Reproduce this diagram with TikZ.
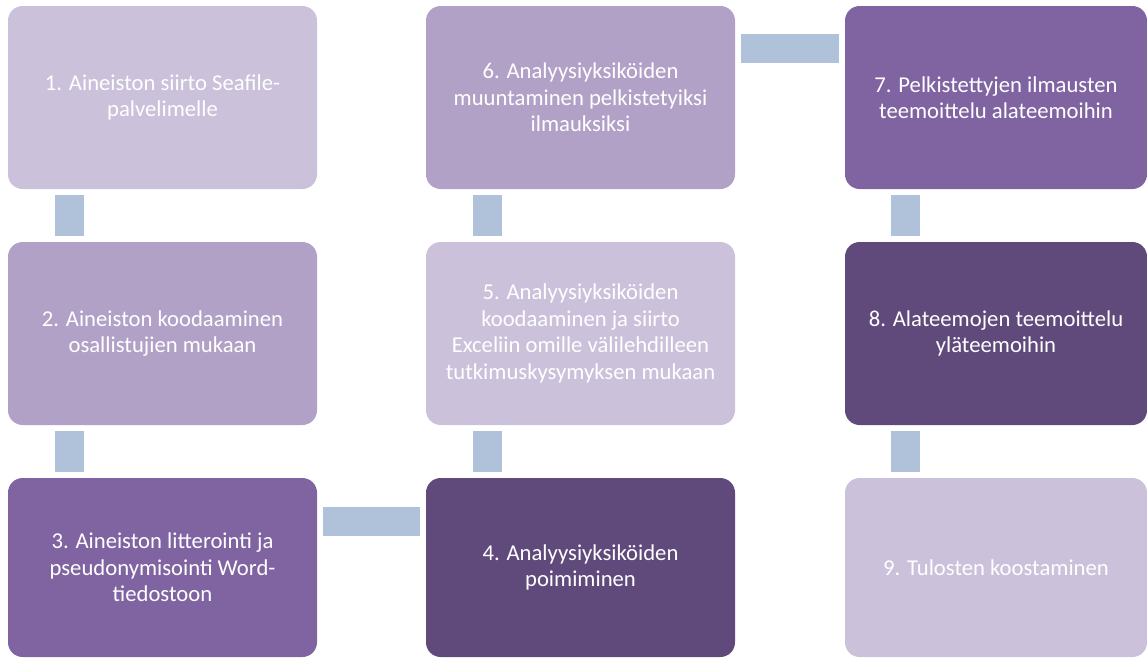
\documentclass[tikz,border=0pt]{standalone}
\usepackage{fontspec}
\setmainfont{Carlito}
\usepackage{tikz}
\usetikzlibrary{calc,
                positioning}
\definecolor{lavlight}{HTML}{CBC1DB}
\definecolor{lavmid}{HTML}{B2A1C7}
\definecolor{lavdeep}{HTML}{8064A2}
\definecolor{lavdark}{HTML}{604A7B}
\definecolor{linkblue}{HTML}{B0C1DA}
\tikzset{
        base/.style={rectangle, rounded corners=11pt, align=center, inner sep=0pt,
                     text=white, font=\fontsize{17}{19.8}\selectfont},
        stepbox/.style={base, minimum width=231.75pt, minimum height=137.25pt},
        lastrow/.style={minimum height=134.25pt},
        lastcol/.style={minimum width=226.5pt},
        link/.style={draw=linkblue, line width=21.75pt, shorten <=4.5pt, shorten >=4.5pt},
 }
\begin{document}
\begin{tikzpicture}[x=0.75pt, y=-0.75pt]
    \useasboundingbox (0,0) rectangle (1147,658);

    \node[stepbox, fill=lavlight] (s1) at (162.5,97.5)
         {1. Aineiston siirto Seafile-\\palvelimelle};
    \node[stepbox, fill=lavmid] (s2) at (162.5,333.5)
         {2. Aineiston koodaaminen\\osallistujien mukaan};
    \node[stepbox, lastrow, fill=lavdeep] (s3) at (162.5,567.5)
         {3. Aineiston litterointi ja\\pseudonymisointi Word-\\tiedostoon};
    \node[stepbox, lastrow, fill=lavdark] (s4) at (580.5,567.5)
         {4. Analyysiyksiköiden\\poimiminen};
    \node[stepbox, fill=lavlight] (s5) at (580.5,333.5)
         {5. Analyysiyksiköiden\\koodaaminen ja siirto\\Exceliin omille välilehdilleen\\tutkimuskysymyksen mukaan};
    \node[stepbox, fill=lavmid] (s6) at (580.5,97.5)
         {6. Analyysiyksiköiden\\muuntaminen pelkistetyiksi\\ilmauksiksi};
    \node[stepbox, lastcol, fill=lavdeep] (s7) at (996,97.5)
         {7. Pelkistettyjen ilmausten\\teemoittelu alateemoihin};
    \node[stepbox, lastcol, fill=lavdark] (s8) at (996,333.5)
         {8. Alateemojen teemoittelu\\yläteemoihin};
    \node[stepbox, lastcol, lastrow, fill=lavlight] (s9) at (996,567.5)
         {9. Tulosten koostaminen};

    \draw[link] ($(s1.south west)+(61.5,0)$) -- ($(s2.north west)+(61.5,0)$);
    \draw[link] ($(s2.south west)+(61.5,0)$) -- ($(s3.north west)+(61.5,0)$);
    \draw[link] ($(s3.north east)+(0,43.5)$) -- ($(s4.north west)+(0,43.5)$);
    \draw[link] ($(s4.north west)+(61.5,0)$) -- ($(s5.south west)+(61.5,0)$);
    \draw[link] ($(s5.north west)+(61.5,0)$) -- ($(s6.south west)+(61.5,0)$);
    \draw[link] ($(s6.north east)+(0,43)$) -- ($(s7.north west)+(0,43)$);
    \draw[link] ($(s7.south west)+(61,0)$) -- ($(s8.north west)+(61,0)$);
    \draw[link] ($(s8.south west)+(61,0)$) -- ($(s9.north west)+(61,0)$);

\end{tikzpicture}
\end{document}
